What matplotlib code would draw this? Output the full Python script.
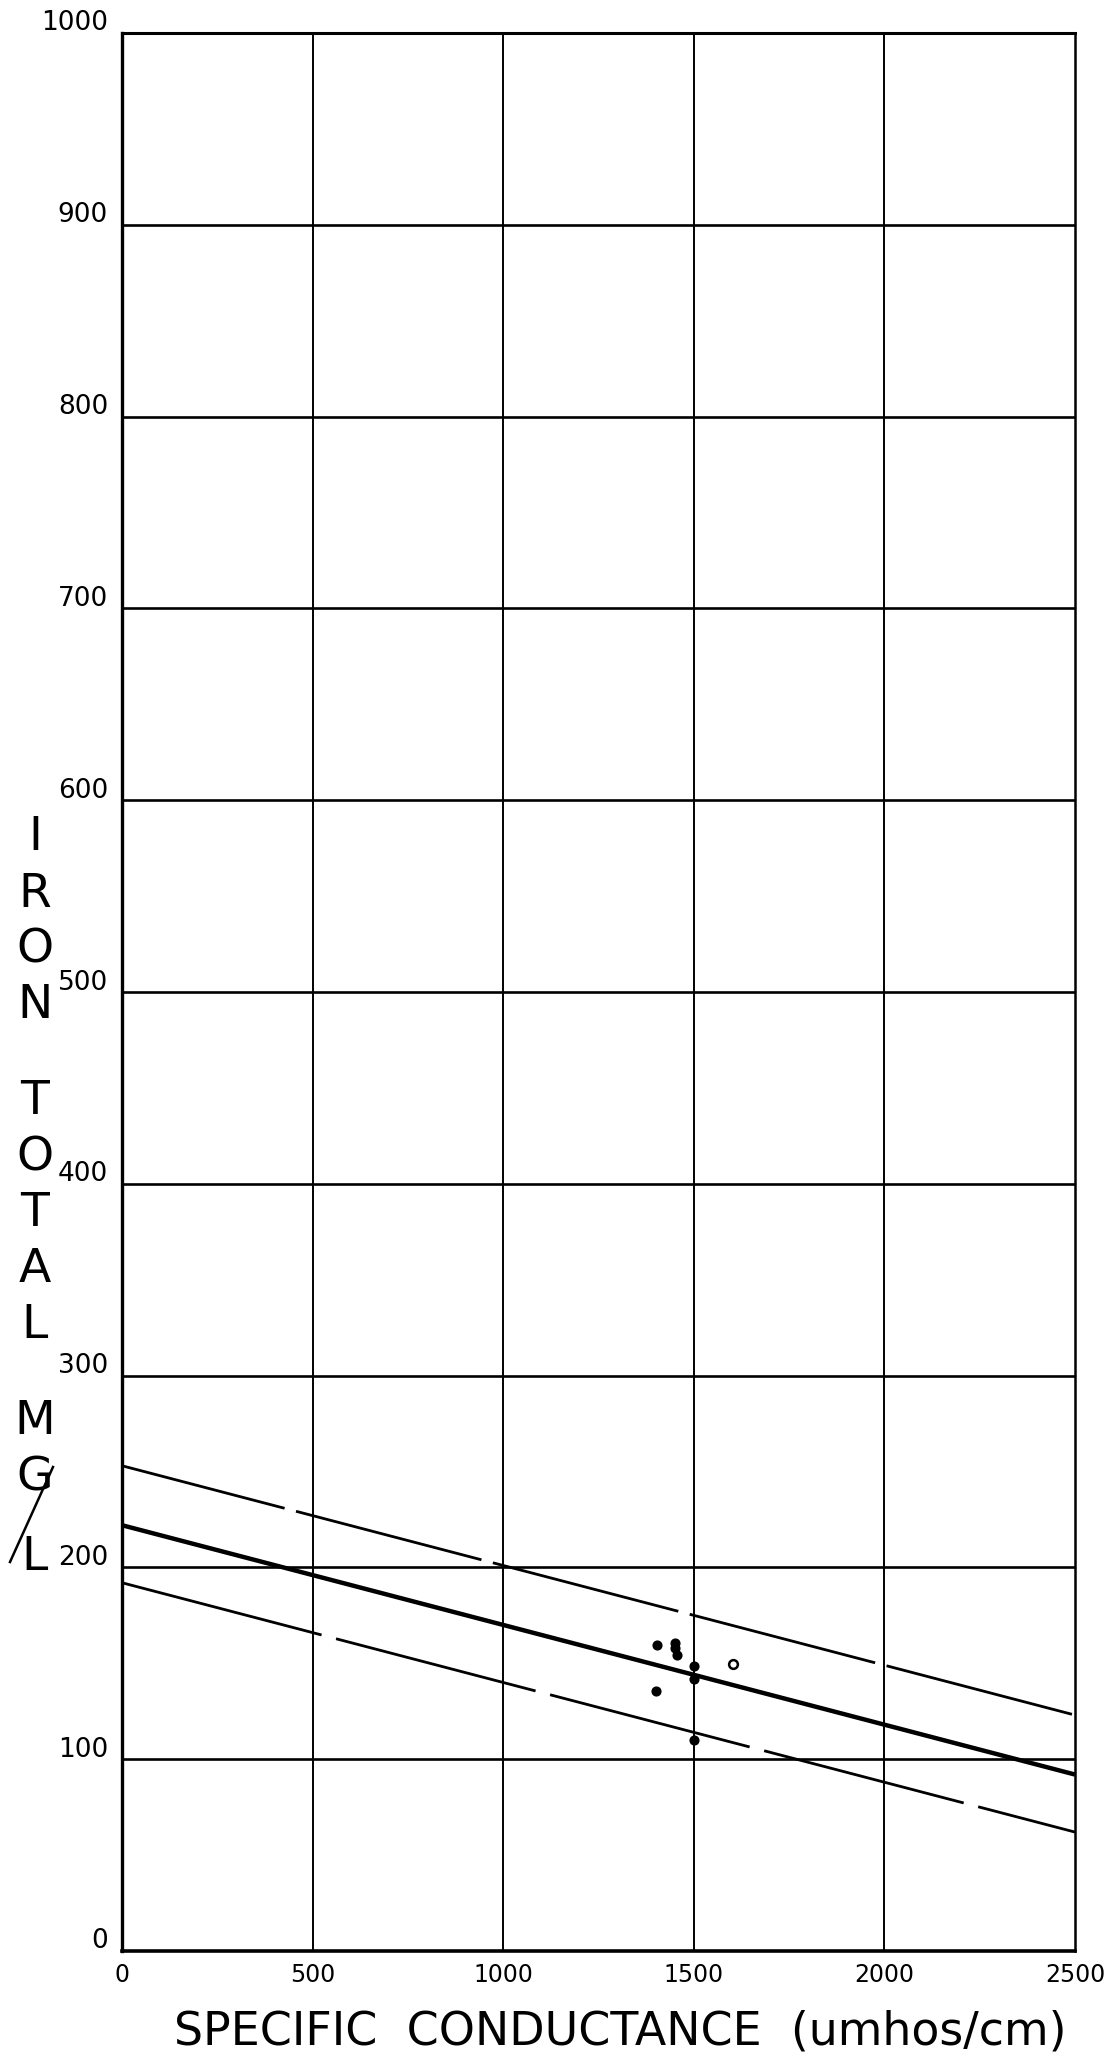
import matplotlib
matplotlib.use("Agg")
import matplotlib.pyplot as plt
from matplotlib.lines import Line2D
from matplotlib.transforms import ScaledTranslation

# values
conductance = [1403, 1450, 1450, 1457, 1500, 1500, 1400, 1500]
iron_total = [159.8, 160.5, 158.2, 154.2, 148.6, 141.7, 135.6, 110.0]
conductance_open = [1602]
iron_total_open = [149.5]

fit_x = [0, 2500]
fit_mid = [222, 92]
fit_upper = [253, 123]
fit_lower = [192, 62]

x_ticks = [0, 500, 1000, 1500, 2000, 2500]
y_ticks = [0, 100, 200, 300, 400, 500, 600, 700, 800, 900, 1000]

plt.rcParams['font.family'] = ['DejaVu Sans']
plt.rcParams['lines.scale_dashes'] = False

W, H = 1107, 2062
fig = plt.figure(figsize=(W / 100, H / 100), dpi=100)
ax = fig.add_axes([122 / W, 1 - 1951 / H, 953 / W, 1918 / H])

ax.set_xlim(0, 2500)
ax.set_ylim(0, 1000)

for x in x_ticks[1:-1]:
    ax.axvline(x, color='black', lw=1.4, zorder=1)
for y in y_ticks[1:-1]:
    ax.axhline(y, color='black', lw=1.9, zorder=1)

ax.plot(fit_x, fit_mid, color='black', lw=3.2, solid_capstyle='butt', zorder=3)
ax.plot(fit_x, fit_upper, color='black', lw=2.0,
        linestyle=(17, (138, 8.5)), zorder=3)
ax.plot(fit_x, fit_lower, color='black', lw=2.0,
        linestyle=(0, (148.5, 10.8)), zorder=3)

ax.plot(conductance, iron_total, 'o', color='black', ms=6.3, zorder=4)
ax.plot(conductance_open, iron_total_open, 'o', mfc='white', mec='black',
        mew=1.8, ms=6.3, zorder=4)

for side, w in [('left', 2.4), ('bottom', 2.6), ('top', 2.2), ('right', 1.8)]:
    ax.spines[side].set_linewidth(w)

ax.set_xticks(x_ticks)
ax.set_yticks(y_ticks)
ax.tick_params(axis='both', length=0)
ax.tick_params(axis='x', pad=9, labelsize=17)
ax.tick_params(axis='y', pad=10, labelsize=19)
for lab in ax.get_yticklabels():
    lab.set_transform(lab.get_transform() + ScaledTranslation(0, 9 / 72, fig.dpi_scale_trans))

ax.set_xlabel('SPECIFIC  CONDUCTANCE  (umhos/cm)', fontsize=33, va='center')
ax.xaxis.set_label_coords(0.523, -0.042)

# stacked hand-lettered y label
ypix = 838
for word_i, word in enumerate(['IRON', 'TOTAL', 'MG/L']):
    if word_i > 0:
        ypix += 40
    for ch in word:
        if ch == '/':
            ypix += 24
            continue
        fig.text(35 / W, 1 - ypix / H, ch, fontsize=34, ha='center', va='center')
        ypix += 56
fig.add_artist(Line2D([53 / W, 10 / W], [1 - 1467 / H, 1 - 1562 / H],
                      transform=fig.transFigure, color='black', lw=1.8))

fig.savefig('out.png', dpi=100, facecolor='white')
